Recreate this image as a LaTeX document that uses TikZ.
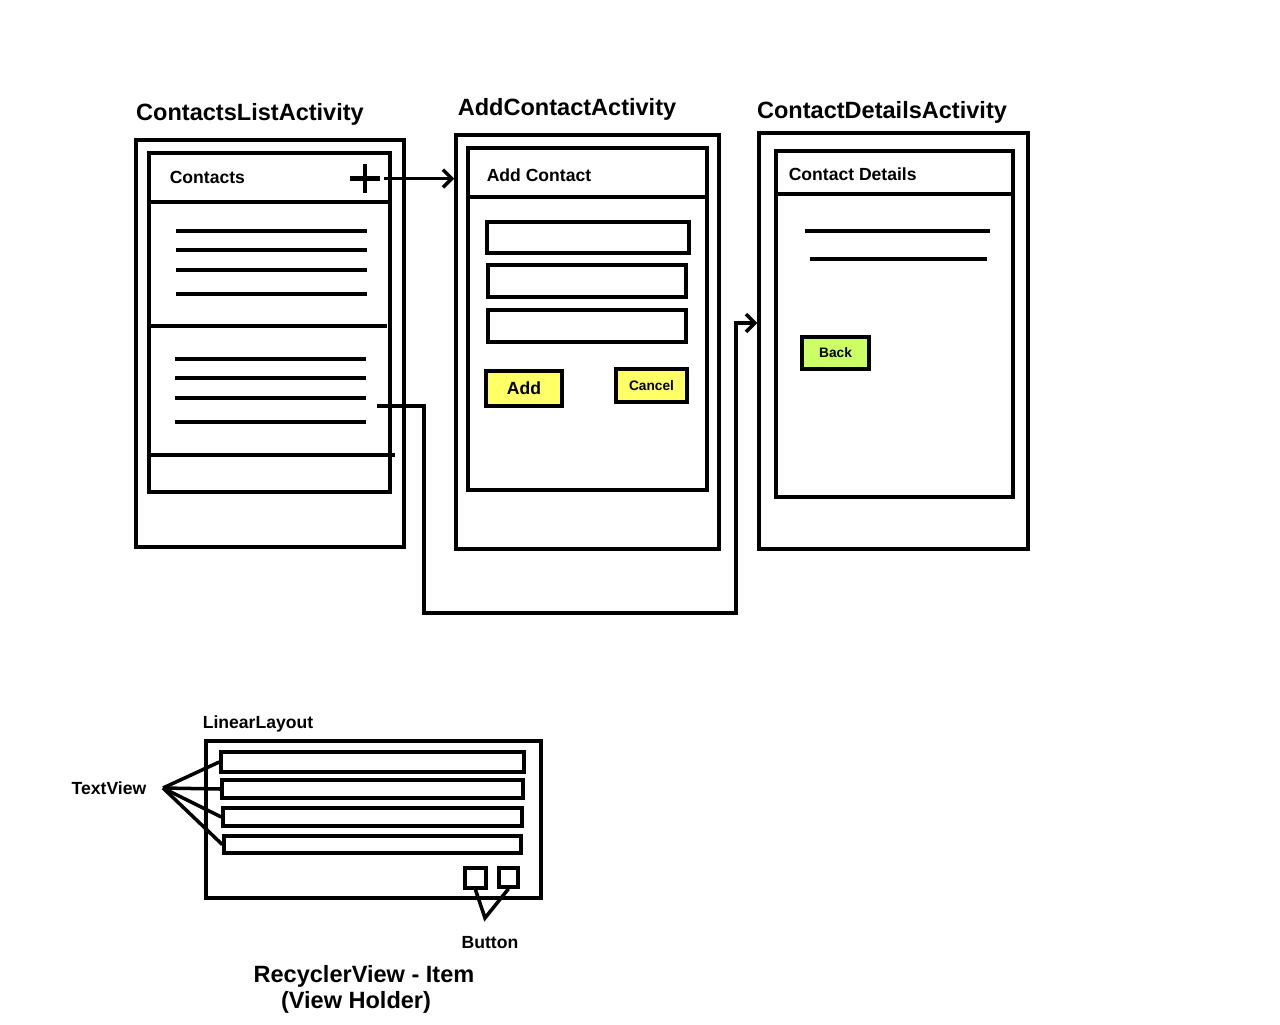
\documentclass[tikz,border=0pt]{standalone}
\usepackage{fontspec}
\setmainfont{Liberation Sans}
\usepackage{tikz}
\usetikzlibrary{fit,arrows.meta}
\definecolor{addyellow}{HTML}{FFFF66}
\definecolor{backgreen}{HTML}{CCFF66}

\begin{document}
\begin{tikzpicture}[x=0.02cm,y=-0.02cm,line width=2pt,
    box/.style={draw,inner sep=0pt,rectangle},
    title/.style={font=\fontsize{13.4}{16}\selectfont\bfseries},
    bar/.style={font=\fontsize{10}{12}\selectfont\bfseries,anchor=west,inner sep=0pt},
    small/.style={font=\fontsize{7.8}{9}\selectfont\bfseries},
    lbl/.style={font=\fontsize{10}{12}\selectfont\bfseries}]
        \useasboundingbox (0,0) rectangle (1280,1024);

        % titles
        \node[title] (t1) at (250,114) {ContactsListActivity};
        \node[title] (t2) at (567,109) {AddContactActivity};
        \node[title] (t3) at (882,112) {ContactDetailsActivity};

        % contacts list screen
        \node[box,fit={(136,140) (404,547)}] (list) {};
        \node[box,fit={(149,153) (390,492)}] (listin) {};
        \draw (149,202) -- (390,202);
        \node[bar] (lhead) at (168,177) {Contacts};
        \node[inner sep=0pt,fit={(352,166) (378,191)}] (plus) {};
        \draw[line width=2.8pt] (plus.west) -- (plus.east);
        \draw[line width=2.8pt] (plus.north) -- (plus.south);
        \foreach \y in {231,250,270,294}
            \draw[line width=2.3pt] (176,\y) -- (367,\y);
        \draw (147,326) -- (387,326);
        \foreach \y in {359,378,398,422}
            \draw[line width=2.3pt] (175,\y) -- (366,\y);
        \draw (149,455) -- (395,455);
        \coordinate (itemend) at (377,406);

        % add contact screen
        \node[box,fit={(456,135) (719,549)}] (add) {};
        \node[box,fit={(468,148) (707,490)}] (addin) {};
        \draw (468,197) -- (707,197);
        \node[bar] (ahead) at (485,175) {Add Contact};
        \node[box,fit={(487,222) (689,253)}] (field1) {};
        \node[box,fit={(488,265) (686,297)}] (field2) {};
        \node[box,fit={(488,310) (686,342)}] (field3) {};
        \node[box,fill=addyellow,fit={(486,371) (562,406)},
            label={[lbl]center:Add}] (addbtn) {};
        \node[box,fill=addyellow,fit={(616,369) (687,402)},
            label={[small]center:Cancel}] (cancel) {};

        % contact details screen
        \node[box,fit={(759,133) (1028,549)}] (details) {};
        \node[box,fit={(776,151) (1013,497)}] (detailsin) {};
        \draw (776,194) -- (1013,194);
        \node[bar] (dhead) at (787,174) {Contact Details};
        \draw (805,231) -- (990,231);
        \draw (810,259) -- (987,259);
        \node[box,fill=backgreen,fit={(802,337) (869,369)},
            label={[small]center:Back}] (back) {};

        % navigation
        \draw[-{Straight Barb[length=5pt,width=10pt]}] (plus.east) ++(4,0) -- (plus.east -| add.west);
        \draw[-{Straight Barb[length=5pt,width=10pt]}] (itemend) -- (424,406) -- (424,613)
            -- (736,613) -- (736,323) -- (details.west |- 0,323);

        % recycler view item
        \node[lbl] (ll) at (258,724) {LinearLayout};
        \node[box,fit={(206,741) (541,898)}] (item) {};
        \node[box,fit={(221,752) (524,772)}] (tv1) {};
        \node[box,fit={(222,780) (523,798)}] (tv2) {};
        \node[box,fit={(223,808) (522,826)}] (tv3) {};
        \node[box,fit={(224,836) (521,853)}] (tv4) {};
        \node[lbl] (tvlabel) at (109,788) {TextView};
        \coordinate (fan) at (163,788);
        \draw (fan) -- (tv1.west);
        \draw (fan) -- (tv2.west);
        \draw (fan) -- (tv3.west);
        \draw (fan) -- (tv4.west);
        \node[box,fit={(465,868) (486,888)}] (b1) {};
        \node[box,fit={(499,868) (518,887)}] (b2) {};
        \coordinate (bjoin) at (485,918);
        \draw (b1.south) -- (bjoin) -- (b2.south);
        \node[lbl] (blabel) at (490,943) {Button};
        \node[title] (cap1) at (364,976) {RecyclerView - Item};
        \node[title] (cap2) at (356,1002) {(View Holder)};
\end{tikzpicture}
\end{document}
